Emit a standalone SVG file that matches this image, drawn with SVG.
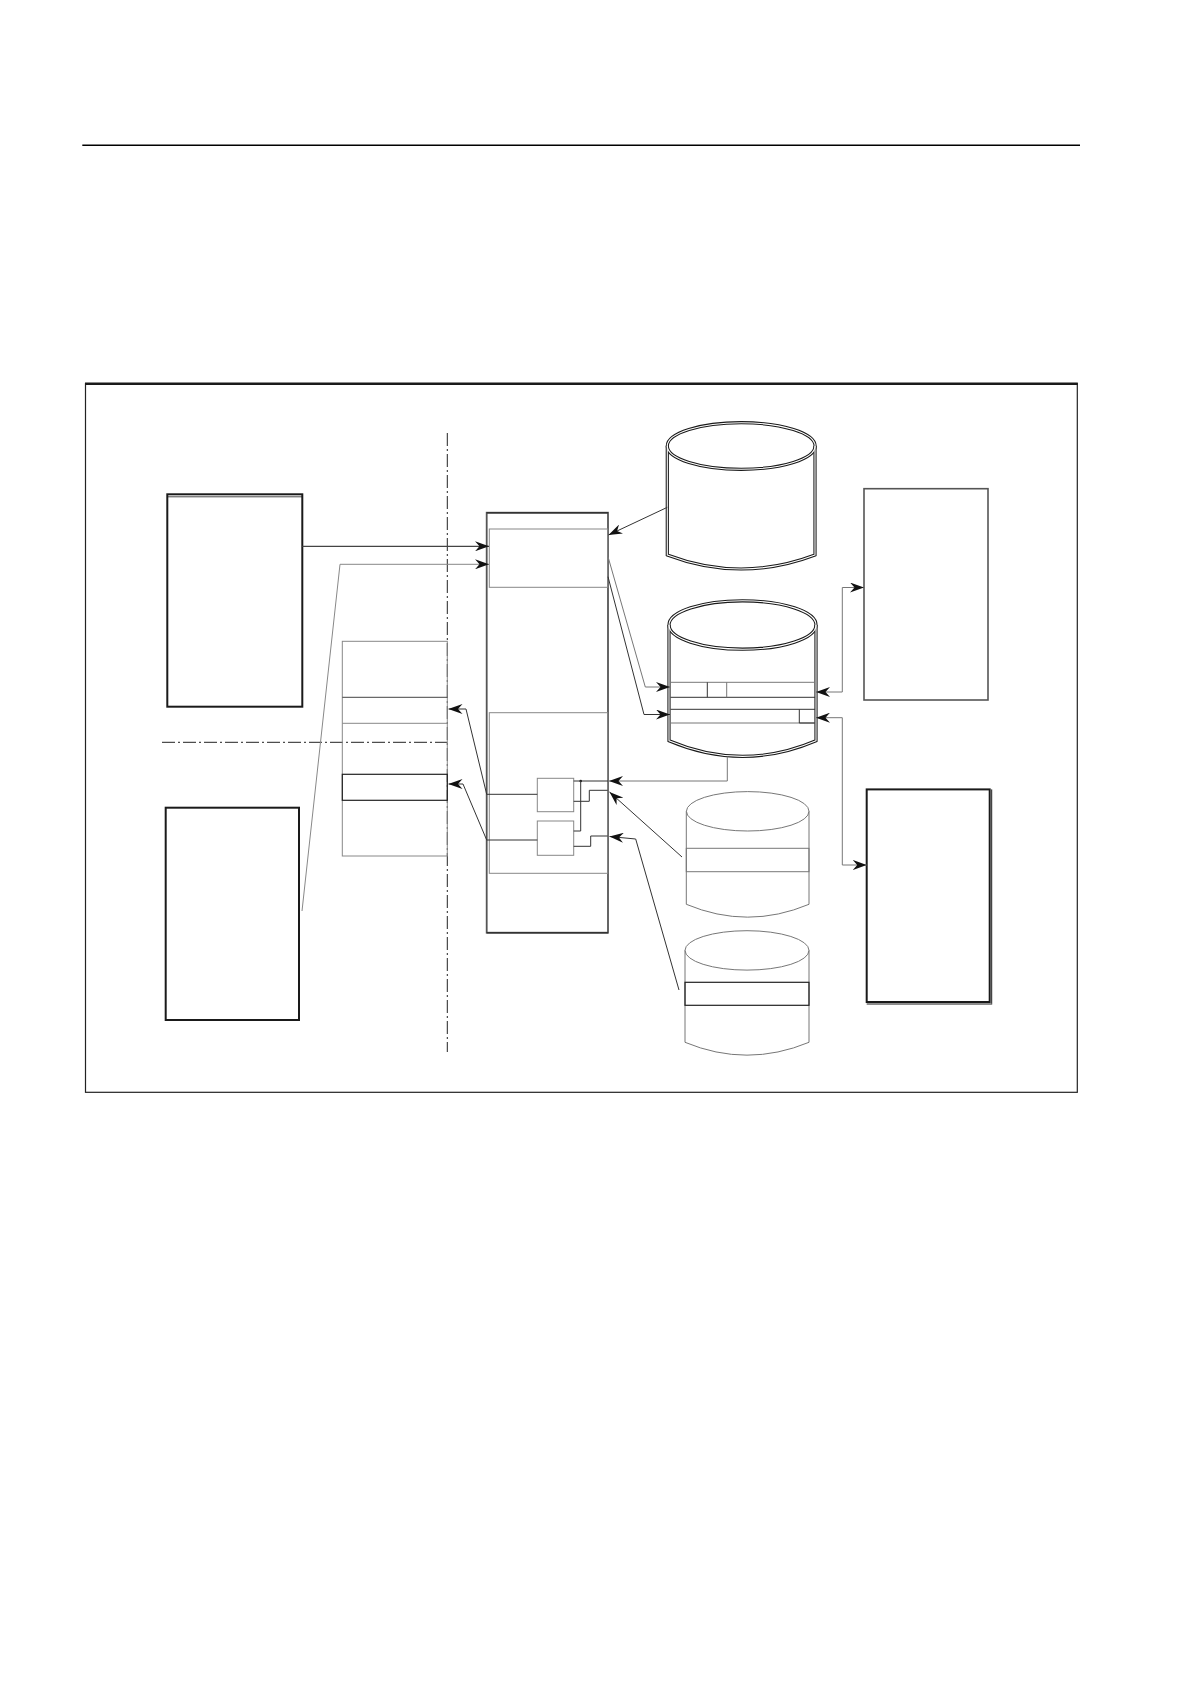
<svg xmlns="http://www.w3.org/2000/svg" width="1190" height="1684" viewBox="0 0 1190 1684">
<defs>
<style>
.box{fill:none;stroke:#1a1a1a;stroke-width:2}
.thin{fill:none;stroke:#333;stroke-width:1}
.gray{fill:none;stroke:#888;stroke-width:1}
.mid{fill:none;stroke:#444;stroke-width:1.3}
.dd{fill:none;stroke:#222;stroke-width:1;stroke-dasharray:13 3 2 3}
.cylo{fill:none;stroke:#1a1a1a;stroke-width:3.2}
.cyli{fill:none;stroke:#fff;stroke-width:1.1}
.c{fill:none;stroke:#333;stroke-width:1}
.cg{fill:none;stroke:#777;stroke-width:1}
</style>
<marker id="ah" viewBox="0 0 14 10" refX="14" refY="5" markerWidth="14" markerHeight="10" markerUnits="userSpaceOnUse" orient="auto-start-reverse">
<path d="M0,0 L14,5 L0,10 L4.5,5 Z" fill="#111"/>
</marker>
</defs>
<rect width="1190" height="1684" fill="#fff"/>
<g id="page-rule"><line x1="82.3" y1="145.3" x2="1080" y2="145.3" stroke="#000" stroke-width="1.5"/></g>
<g id="frame">
<rect x="85.5" y="383.7" width="991.8" height="708.6" fill="none" stroke="#222" stroke-width="1.2"/>
<line x1="85" y1="383.7" x2="1077.8" y2="383.7" stroke="#1a1a1a" stroke-width="2.6"/>
</g>
<g id="boundaries">
<line class="dd" x1="447.3" y1="433" x2="447.3" y2="1052"/>
<line class="dd" x1="162" y1="742.3" x2="447.3" y2="742.3"/>
</g>
<g id="left-box-1">
<rect class="box" x="167.3" y="494.3" width="135" height="212.4"/>
<line x1="167.3" y1="496.8" x2="302.3" y2="496.8" stroke="#1a1a1a" stroke-width="0.8"/>
</g>
<g id="left-box-2">
<rect class="box" x="165.7" y="807.7" width="133.3" height="212.3"/>
</g>
<g id="stack-box">
<rect class="gray" x="342.3" y="641.3" width="105" height="214.7"/>
<line x1="342.3" y1="697.3" x2="447.3" y2="697.3" stroke="#444" stroke-width="1"/>
<line class="gray" x1="342.3" y1="723.3" x2="447.3" y2="723.3"/>
<rect x="342.3" y="774.3" width="105" height="26" fill="none" stroke="#222" stroke-width="1.2"/>
</g>
<g id="central-box">
<rect x="486.7" y="512.7" width="121.3" height="420" fill="none" stroke="#555" stroke-width="1.8"/>
<line x1="486.7" y1="512.7" x2="608" y2="512.7" stroke="#333" stroke-width="1.5"/>
<line x1="486.7" y1="932.7" x2="608" y2="932.7" stroke="#333" stroke-width="1.5"/>
<rect class="gray" x="489.3" y="529" width="118.4" height="58.3"/>
<rect class="gray" x="489.3" y="712.7" width="118.4" height="160.6"/>
</g>
<g id="small-box-1"><rect class="gray" x="537.3" y="778.3" width="36.4" height="33.4"/></g>
<g id="small-box-2"><rect class="gray" x="537.3" y="821" width="36.4" height="34.3"/></g>
<g id="cylinder-1">
<path class="cylo" d="M667.3,446 L667.3,555 Q741,583 815,555 L815,446"/>
<ellipse class="cylo" cx="741.2" cy="446" rx="73.9" ry="23.3" fill="#fff"/>
<path class="cyli" d="M667.3,446 L667.3,555 Q741,583 815,555 L815,446"/>
<ellipse class="cyli" cx="741.2" cy="446" rx="73.9" ry="23.3"/>
</g>
<g id="cylinder-2">
<path class="cylo" d="M669,625 L669,740.7 Q742.5,772 816,740.7 L816,625"/>
<ellipse class="cylo" cx="742.5" cy="625" rx="73.5" ry="24.2"/>
<path class="cyli" d="M669,625 L669,740.7 Q742.5,772 816,740.7 L816,625"/>
<ellipse class="cyli" cx="742.5" cy="625" rx="73.5" ry="24.2"/>
<line class="cg" x1="670.5" y1="682.3" x2="815" y2="682.3"/>
<line class="c" x1="670.5" y1="697.3" x2="815" y2="697.3"/>
<line class="c" x1="670.5" y1="709.3" x2="815" y2="709.3"/>
<line class="cg" x1="670.5" y1="723" x2="815" y2="723"/>
<line class="c" x1="707.3" y1="682.3" x2="707.3" y2="697.3"/>
<line class="cg" x1="726.7" y1="682.3" x2="726.7" y2="697.3"/>
<line class="c" x1="799.3" y1="709.3" x2="799.3" y2="723"/>
<line class="c" x1="799.3" y1="723" x2="815" y2="723"/>
</g>
<g id="cylinder-3">
<path class="cg" d="M686.3,811.3 L686.3,904.3 Q747.7,930 809,904.3 L809,811.3"/>
<ellipse class="cg" cx="747.7" cy="811.3" rx="61.3" ry="19.7"/>
<rect class="cg" x="686.3" y="848.3" width="122.7" height="23.4"/>
</g>
<g id="cylinder-4">
<path class="cg" d="M685,950.4 L685,1042.3 Q747,1068 809,1042.3 L809,950.4"/>
<ellipse class="cg" cx="747" cy="950.4" rx="62" ry="19.7"/>
<rect x="685" y="982.3" width="124" height="23" fill="none" stroke="#222" stroke-width="1.2"/>
</g>
<g id="right-box-1">
<rect x="864" y="488.7" width="124" height="211.3" fill="none" stroke="#555" stroke-width="1.6"/>
</g>
<g id="right-box-2">
<rect class="box" x="866.7" y="789.4" width="123" height="212.6"/>
<line x1="991.7" y1="789.4" x2="991.7" y2="1003.5" stroke="#1a1a1a" stroke-width="1"/>
<line x1="866.7" y1="1004" x2="992.2" y2="1004" stroke="#1a1a1a" stroke-width="1"/>
</g>
<g id="connectors">
<polyline class="mid" points="302.3,546.3 489,546.3" marker-end="url(#ah)"/>
<polyline class="gray" points="302,911 340,564.3 489,564.3" stroke="#555" marker-end="url(#ah)"/>
<polyline class="c" points="537.3,794.3 486.7,794.3 466,709 448.5,709" marker-end="url(#ah)"/>
<polyline class="c" points="537.3,840 486.7,840 463,784 448.5,784" marker-end="url(#ah)"/>
<polyline class="c" points="667.3,507.3 608.5,535" marker-end="url(#ah)"/>
<polyline class="cg" points="608,556.7 645.3,687 670,687" stroke="#555" marker-end="url(#ah)"/>
<polyline class="c" points="608,576.7 644,714.5 670,714.5" marker-end="url(#ah)"/>
<polyline class="cg" points="816,692 842.3,692 842.3,587.5 864,587.5" stroke="#555" marker-start="url(#ah)" marker-end="url(#ah)"/>
<polyline class="cg" points="816,717.7 842.3,717.7 842.3,865 866.7,865" stroke="#555" marker-start="url(#ah)" marker-end="url(#ah)"/>
<polyline class="cg" points="727.3,756.5 727.3,781 609,781" stroke="#555" marker-end="url(#ah)"/>
<polyline class="c" points="682,857 609.5,792" marker-end="url(#ah)"/>
<polyline class="c" points="679,990 635.7,839 609.5,836.5" marker-end="url(#ah)"/>
<polyline class="c" points="608,781 573.7,781"/>
<circle cx="580.7" cy="781" r="1.3" fill="#222"/>
<polyline class="c" points="580.7,781 580.7,831 573.7,831"/>
<polyline class="c" points="607.7,790.3 589.3,790.3 589.3,801.3 573.7,801.3"/>
<polyline class="c" points="607.7,836 590.7,836 590.7,846.3 573.7,846.3"/>
</g>
</svg>
